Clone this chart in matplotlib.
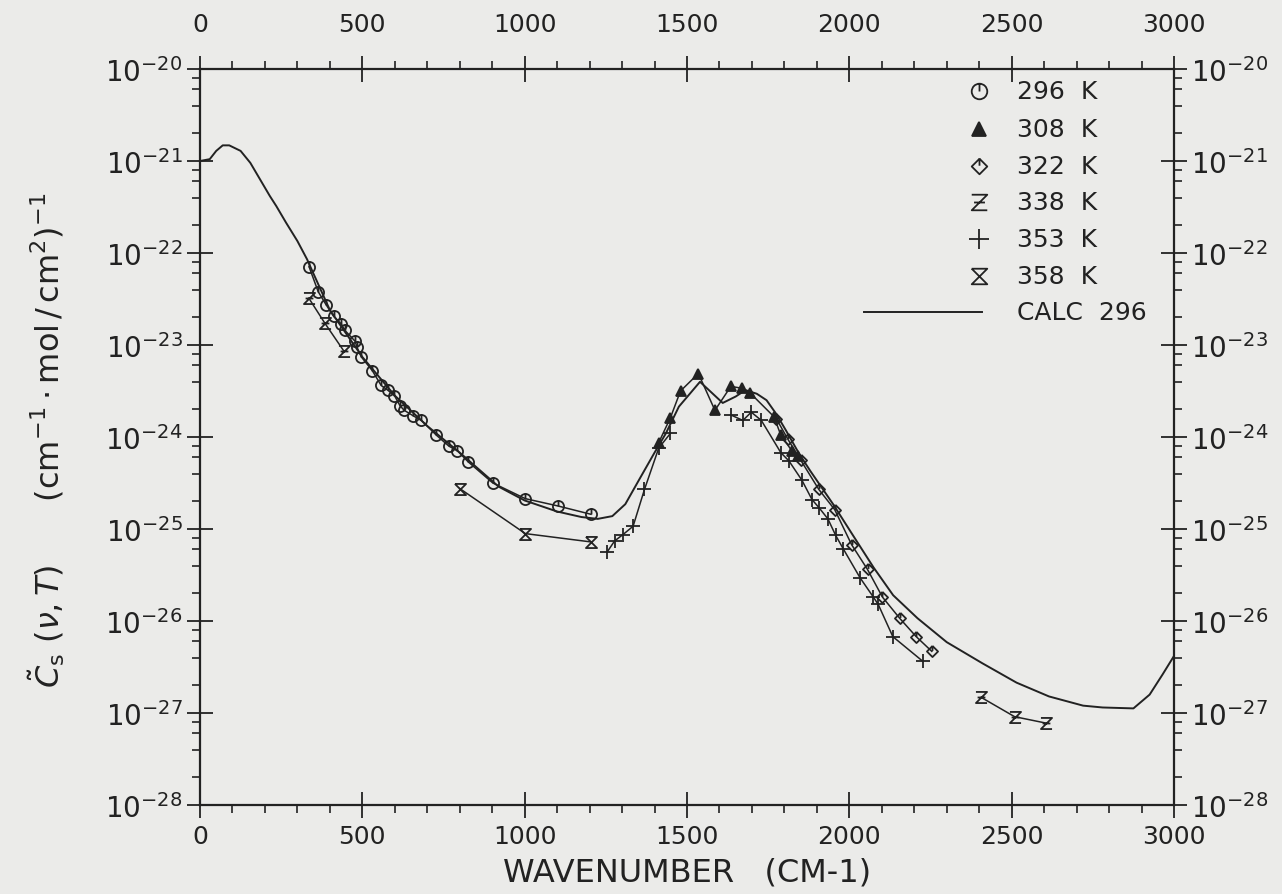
import numpy as np
import matplotlib
matplotlib.use("Agg")
import matplotlib.pyplot as plt
from matplotlib.path import Path
from matplotlib.ticker import FixedLocator, NullFormatter, MultipleLocator

# log10 of Cs (cm-1 . mol/cm2)^-1
wn_296 = [336, 364, 388, 412, 435, 446, 478, 483, 497, 531, 558, 578, 599, 616, 629,
          657, 682, 728, 767, 793, 826, 902, 1002, 1103, 1204]
lg_296 = [-22.15, -22.42, -22.56, -22.69, -22.77, -22.84, -22.96, -23.02, -23.13, -23.28,
          -23.44, -23.49, -23.55, -23.66, -23.71, -23.77, -23.82, -23.98, -24.10, -24.15,
          -24.27, -24.50, -24.67, -24.75, -24.84]

wn_308 = [1413, 1449, 1480, 1535, 1586, 1635, 1669, 1694, 1768, 1789, 1823, 1843]
lg_308 = [-24.06, -23.79, -23.50, -23.31, -23.71, -23.45, -23.47, -23.52, -23.78, -23.98,
          -24.15, -24.21]

wn_322 = [1775, 1810, 1850, 1906, 1955, 2007, 2056, 2102, 2155, 2206, 2254]
lg_322 = [-23.80, -24.02, -24.25, -24.57, -24.79, -25.17, -25.44, -25.74, -25.97,
          -26.17, -26.33]

wn_338 = [335, 384, 442, np.nan, 2406, 2509, 2606]
lg_338 = [-22.49, -22.76, -23.06, np.nan, -26.83, -27.04, -27.11]

wn_353 = [1254, 1277, 1303, 1334, 1369, 1413, 1449, np.nan, 1635, 1672, 1698, 1729, 1789,
          1814, 1854, 1885, 1907, 1934, 1958, 1982, 2033, 2074, 2089, 2134, 2227]
lg_353 = [-25.25, -25.13, -25.06, -24.97, -24.57, -24.12, -23.96, np.nan, -23.76, -23.82,
          -23.73, -23.82, -24.17, -24.26, -24.47, -24.68, -24.77, -24.89, -25.07, -25.22,
          -25.53, -25.74, -25.82, -26.17, -26.44]

wn_358 = [800, 1002, 1203]
lg_358 = [-24.56, -25.05, -25.14]

wn_calc = [0, 30, 50, 70, 90, 125, 155, 185, 215, 235, 265, 300, 330, 340, 400, 500, 600,
           700, 800, 920, 1000, 1100, 1175, 1225, 1270, 1310, 1350, 1400, 1435, 1475, 1540,
           1610, 1650, 1680, 1715, 1745, 1775, 1805, 1845, 1880, 1950, 2015, 2075, 2135,
           2210, 2300, 2410, 2515, 2615, 2720, 2780, 2875, 2925, 2965, 3000]
lg_calc = [-21.00, -20.98, -20.89, -20.83, -20.83, -20.89, -21.02, -21.20, -21.38, -21.49,
           -21.67, -21.87, -22.07, -22.15, -22.62, -23.13, -23.55, -23.88, -24.17, -24.54,
           -24.69, -24.81, -24.87, -24.89, -24.86, -24.73, -24.48, -24.17, -23.96, -23.67,
           -23.40, -23.63, -23.56, -23.49, -23.53, -23.60, -23.75, -23.93, -24.18, -24.37,
           -24.73, -25.09, -25.42, -25.72, -25.97, -26.23, -26.46, -26.67, -26.82, -26.92,
           -26.94, -26.95, -26.80, -26.58, -26.38]

labels = ["296  K", "308  K", "322  K", "338  K", "353  K", "358  K"]
decades = list(range(-28, -19))
wn_ticks = [0, 500, 1000, 1500, 2000, 2500, 3000]

BG = "#ebebe9"
INK = "#222222"

M, L = Path.MOVETO, Path.LINETO
circ_tick = Path.make_compound_path(Path.unit_circle(), Path([(0, 1), (0, 0)], [M, L]))
diam_tick = Path([(0, 1), (1, 0), (0, -1), (-1, 0), (0, 1), (0, 1), (0, 0.1)],
                 [M, L, L, L, L, M, L])
z_bar = Path([(-1, 1), (1, 1), (-1, -1), (1, -1), (-0.7, 0), (0.7, 0)],
             [M, L, L, L, M, L])
hourglass = Path([(-1, 1), (1, 1), (-1, -1), (1, -1), (-1, 1)], [M, L, L, L, L])

styles = [
    dict(marker=circ_tick, ms=8, mfc="none"),
    dict(marker="^", ms=7, mfc=INK),
    dict(marker=diam_tick, ms=8, mfc="none"),
    dict(marker=z_bar, ms=8, mfc="none"),
    dict(marker="+", ms=10, mfc="none"),
    dict(marker=hourglass, ms=8, mfc="none"),
]
series = [(wn_296, lg_296), (wn_308, lg_308), (wn_322, lg_322),
          (wn_338, lg_338), (wn_353, lg_353), (wn_358, lg_358)]

fig = plt.figure(figsize=(12.82, 8.95), dpi=100, facecolor=BG)
ax = fig.add_axes([200 / 1282, 1 - 806 / 895, 974 / 1282, 736 / 895], facecolor=BG)

ax.plot(wn_calc, 10.0 ** np.array(lg_calc), color=INK, lw=1.4)
for (wn, lg), st in zip(series, styles):
    ax.plot(wn, 10.0 ** np.array(lg), color=INK, lw=1.1, mec=INK, mew=1.3, **st)

ax.set_yscale("log")
ax.set_xlim(0, 3000)
ax.set_ylim(1e-28, 1e-20)
ax.xaxis.set_major_locator(FixedLocator(wn_ticks))
ax.xaxis.set_minor_locator(MultipleLocator(100))
ax.yaxis.set_major_locator(FixedLocator([10.0 ** d for d in decades]))
ax.yaxis.set_minor_locator(FixedLocator([m * 10.0 ** d for d in decades[:-1]
                                         for m in (2, 4, 6, 8)]))
ax.yaxis.set_minor_formatter(NullFormatter())

for s in ax.spines.values():
    s.set_linewidth(1.6)
    s.set_color(INK)
ax.tick_params(which="major", direction="inout", length=19, width=1.3, colors=INK,
               top=True, right=True, labeltop=False, labelright=True)
ax.tick_params(which="minor", direction="out", length=6, width=1.2, colors=INK,
               top=True, right=True)
ax.tick_params(axis="y", which="major", labelsize=20, pad=3)
ax.tick_params(axis="x", which="major", labelsize=18, pad=4)

# top wavenumber labels sit further from the frame than the bottom ones
top = ax.secondary_xaxis("top")
top.xaxis.set_major_locator(FixedLocator(wn_ticks))
top.xaxis.set_minor_locator(FixedLocator([]))
top.tick_params(length=0, pad=24, labelsize=18, colors=INK)
top.spines["top"].set_visible(False)

# legend drawn by hand so the marker sits at the right end of the line sample
ly = [0.970, 0.918, 0.868, 0.819, 0.769, 0.719]
for y, st, txt in zip(ly, styles, labels):
    big = {k: (v * 1.4 if k == "ms" else v) for k, v in st.items()}
    ax.plot([0.800], [y], transform=ax.transAxes, color=INK, mec=INK, mew=1.3,
            clip_on=False, ls="none", **big)
    ax.text(0.839, y, txt, transform=ax.transAxes, fontsize=18, color=INK, va="center")
ax.plot([0.682, 0.803], [0.670, 0.670], transform=ax.transAxes, color=INK, lw=1.4)
ax.text(0.839, 0.670, "CALC  296", transform=ax.transAxes, fontsize=18, color=INK,
        va="center")

ax.set_xlabel("WAVENUMBER   (CM-1)", fontsize=23, color=INK, labelpad=6)
fig.text(0.036, 1 - 440 / 895,
         r"$\tilde{C}_{\mathrm{s}}\ (\nu ,T)\quad\quad(\mathrm{cm}^{-1}\cdot\mathrm{mol}\,/\,\mathrm{cm}^{2})^{-1}$",
         rotation=90, fontsize=23, color=INK, ha="center", va="center")

fig.savefig("out.png", dpi=100, facecolor=BG)
